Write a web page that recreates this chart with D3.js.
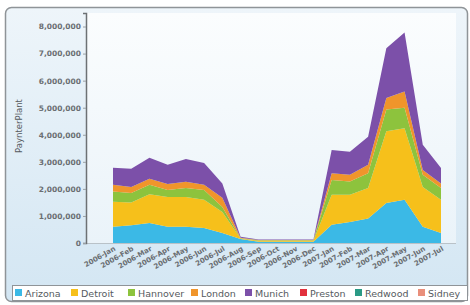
<!DOCTYPE html>
<html>
<head>
<meta charset="utf-8">
<script src="https://cdn.jsdelivr.net/npm/d3@7"></script>
<style>
  body { margin: 0; background: #fff; }
  text { font-family: "DejaVu Sans", Verdana, sans-serif; }
</style>
</head>
<body>
<div id="chart"></div>
<script>
var months = ["2006-Jan","2006-Feb","2006-Mar","2006-Apr","2006-May","2006-Jun","2006-Jul","2006-Aug",
  "2006-Sep","2006-Oct","2006-Nov","2006-Dec","2007-Jan","2007-Feb","2007-Mar","2007-Apr","2007-May","2007-Jun","2007-Jul"];
var plants = ["Arizona","Detroit","Hannover","London","Munich","Preston","Redwood","Sidney"];
var colors = ["#3bb9e6","#f6c01b","#8dc33d","#f0952b","#7c50a9","#e2313d","#2a9a85","#e98f7b"];

// per-plant values (not cumulative)
var arizona  = [600000,660000,740000,600000,600000,550000,370000,150000,50000,50000,50000,50000,670000,780000,910000,1480000,1600000,600000,370000];
var detroit  = [920000,840000,1060000,1100000,1100000,1050000,780000,20000,30000,30000,30000,30000,1110000,1000000,1120000,2650000,2640000,1470000,1230000];
var hannover = [380000,350000,350000,260000,330000,360000,180000,10000,20000,20000,20000,20000,550000,490000,550000,800000,760000,450000,430000];
var london   = [250000,220000,220000,220000,230000,190000,340000,10000,10000,10000,10000,10000,250000,250000,310000,430000,600000,180000,170000];
var munich   = [630000,670000,780000,710000,840000,810000,530000,40000,20000,20000,20000,20000,860000,850000,1040000,1840000,2180000,930000,570000];
var preston  = [0,0,0,0,0,0,0,0,0,0,0,0,0,0,0,0,0,0,0];
var redwood  = [0,0,0,0,0,0,0,0,0,0,0,0,0,0,0,0,0,0,0];
var sidney   = [0,0,0,0,0,0,0,0,0,0,0,0,0,0,0,0,0,0,0];
var series = [arizona,detroit,hannover,london,munich,preston,redwood,sidney];
var yTicks = [0,1000000,2000000,3000000,4000000,5000000,6000000,7000000,8000000];

var W = 470, H = 305;
var svg = d3.select("#chart").append("svg").attr("width", W).attr("height", H);

var defs = svg.append("defs");
var g1 = defs.append("linearGradient").attr("id","bg").attr("x1",0).attr("y1",0).attr("x2",0).attr("y2",1);
g1.append("stop").attr("offset","0").attr("stop-color","#eef5fa");
g1.append("stop").attr("offset","1").attr("stop-color","#d3e6f3");
var g2 = defs.append("linearGradient").attr("id","plotbg").attr("x1",0).attr("y1",0).attr("x2",0).attr("y2",1);
g2.append("stop").attr("offset","0").attr("stop-color","#fbfdfe");
g2.append("stop").attr("offset","1").attr("stop-color","#eaf3f9");

// outer panel
svg.append("rect").attr("x",5.5).attr("y",7.5).attr("width",462).attr("height",294).attr("rx",6)
  .attr("fill","url(#bg)").attr("stroke","#8f9498").attr("stroke-width",1.5);

var plotL = 86, plotR = 456, plotT = 13, plotB = 243;
svg.append("rect").attr("x",plotL).attr("y",plotT).attr("width",plotR-plotL).attr("height",plotB-plotT)
  .attr("fill","url(#plotbg)");

var x = d3.scalePoint().domain(months).range([113, 441]);
var y = d3.scaleLinear().domain([0, 8500000]).range([plotB, plotT]);

var table = months.map(function(m, i) {
  var row = {month: m};
  plants.forEach(function(p, j) { row[p] = series[j][i]; });
  return row;
});
var stack = d3.stack().keys(plants)(table);
var area = d3.area()
  .x(function(d) { return x(d.data.month); })
  .y0(function(d) { return y(d[0]); })
  .y1(function(d) { return y(d[1]); });

svg.append("g").selectAll("path").data(stack).enter().append("path")
  .attr("d", area)
  .attr("fill", function(d, i) { return colors[i]; });

// x axis baseline
svg.append("line").attr("x1",plotL).attr("x2",plotR).attr("y1",plotB+0.5).attr("y2",plotB+0.5)
  .attr("stroke","#b9c2c8").attr("stroke-width",1);

// y axis
var yAxis = svg.append("g").attr("transform","translate(" + plotL + ",0)")
  .call(d3.axisLeft(y).tickValues(yTicks).tickSize(3).tickFormat(d3.format(",")));
yAxis.select(".domain").attr("stroke","#6d7174").attr("stroke-width",1.5);
yAxis.selectAll(".tick line").attr("stroke","#9aa0a4");
yAxis.selectAll("text").attr("fill","#6a6e72").attr("font-size",7.5).attr("font-weight","bold").attr("x",-5);

svg.append("text").attr("transform","translate(22,126) rotate(-90)")
  .attr("text-anchor","middle").attr("font-size",8.5).attr("fill","#555a5e")
  .text("PaynterPlant");

// x labels
svg.append("g").selectAll("text").data(months).enter().append("text")
  .attr("transform", function(d) { return "translate(" + (x(d) + 3) + "," + 250 + ") rotate(-30)"; })
  .attr("text-anchor","end").attr("font-size",7).attr("font-weight","bold").attr("fill","#6a6e72")
  .text(function(d) { return d; });

// legend
svg.append("rect").attr("x",12.5).attr("y",285.5).attr("width",455).attr("height",15)
  .attr("fill","#fff").attr("stroke","#8f9498").attr("stroke-width",1);
var legX = [15, 71, 128, 191, 245, 300, 355, 418];
var leg = svg.append("g").selectAll("g").data(plants).enter().append("g")
  .attr("transform", function(d, i) { return "translate(" + legX[i] + ",289)"; });
leg.append("rect").attr("width",7).attr("height",7).attr("fill", function(d, i) { return colors[i]; });
leg.append("text").attr("x",10).attr("y",7.5).attr("font-size",9.5).attr("fill","#555a5e")
  .text(function(d) { return d; });
</script>
</body>
</html>
